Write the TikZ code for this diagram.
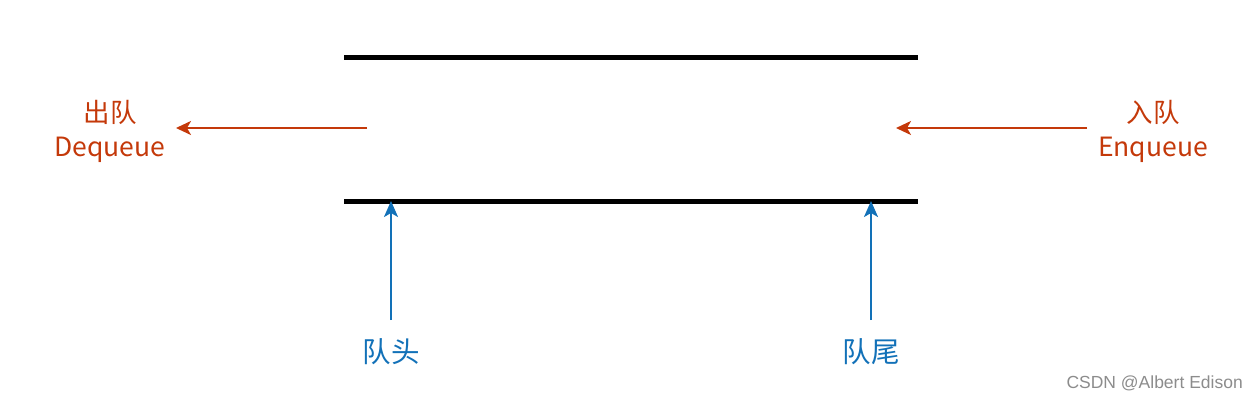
\documentclass[tikz,border=0pt]{standalone}
\usepackage{fontspec}
\setmainfont{Noto Sans CJK SC}
\newfontfamily\wmfont{Liberation Sans}
\usetikzlibrary{arrows.meta}
\definecolor{redc}{HTML}{C4390A}
\definecolor{bluec}{HTML}{1271B8}
\begin{document}
\begin{tikzpicture}[x=1pt,y=-1pt,
  wall/.style={line width=5pt},
  redarrow/.style={draw=redc,line width=2.2pt,-{Stealth[length=15pt,width=14pt,inset=4pt]}},
  bluearrow/.style={draw=bluec,line width=2.2pt,-{Stealth[length=16pt,width=14pt,inset=4pt]}},
  redlabel/.style={text=redc,font=\fontsize{26.5}{34}\selectfont,align=center,inner sep=0pt},
  bluelabel/.style={text=bluec,font=\fontsize{28.5}{30}\selectfont,inner sep=0pt},
  mark label/.style={text=black!45,font=\wmfont\fontsize{17.5}{18}\selectfont,inner sep=0pt}]
\useasboundingbox (0,0) rectangle (1257,400);
\coordinate (tl) at (344,57);
\coordinate (tr) at (918,57);
\coordinate (bl) at (344,201);
\coordinate (br) at (918,201);
\draw[wall] (tl) -- (tr);
\draw[wall] (bl) -- (br);
% red arrows
\coordinate (ds) at (367,128);
\coordinate (de) at (176,128);
\coordinate (es) at (1087,128);
\coordinate (ee) at (896,128);
\draw[redarrow] (ds) -- (de);
\draw[redarrow] (es) -- (ee);
\node[redlabel] (deq) at (110,131) {出队\\Dequeue};
\node[redlabel] (enq) at (1153,131) {入队\\Enqueue};
% blue arrows
\node[bluelabel] (head) at (391,352) {队头};
\node[bluelabel] (tail) at (871,352) {队尾};
\coordinate (hs) at (391,320);
\coordinate (he) at (391,201);
\coordinate (ts) at (871,320);
\coordinate (te) at (871,201);
\draw[bluearrow] (hs) -- (he);
\draw[bluearrow] (ts) -- (te);
\node[mark label,anchor=east] (wm) at (1243,383) {CSDN @Albert Edison};
\end{tikzpicture}
\end{document}
